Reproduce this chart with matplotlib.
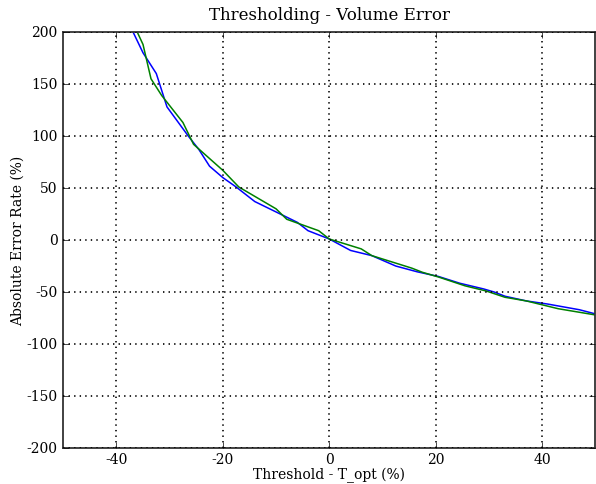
import matplotlib
matplotlib.use('Agg')
import matplotlib.pyplot as plt
import numpy as np

plt.style.use('classic')
plt.rcParams['font.family'] = 'serif'
plt.rcParams['axes.unicode_minus'] = False
plt.rcParams['xtick.labelsize'] = 10
plt.rcParams['ytick.labelsize'] = 10
plt.rcParams['xtick.major.pad'] = 3

# threshold offset (%) and error rate (%) for the two curves
blue_x = [-38, -35, -32.5, -30.5, -26.5, -24.5, -22.5, -20, -17.5, -14, -10, -6, -4, 0,
          4, 8, 12.5, 16.5, 20.5, 24.5, 29, 31, 33, 37, 41, 47, 50]
blue_y = [212, 180, 160, 128, 100, 87, 71, 60, 51, 37, 27, 17, 9, 1,
          -10, -15, -25, -30.5, -35, -41.5, -47, -50, -54, -58.5, -61.5, -67, -71]

green_x = [-37, -35, -33.5, -31.5, -27.5, -25.5, -20, -17, -10, -8, -2, 0,
           6, 8, 13, 15.5, 17.5, 20.5, 25.5, 29.5, 33, 37, 43, 50]
green_y = [210, 188, 155, 139, 113, 92, 67, 51, 30, 20, 9, 1,
           -8.5, -15, -23, -27, -31, -35.5, -44, -49, -55, -58.5, -66, -72]

fig = plt.figure(figsize=(5.96, 4.85), dpi=100, facecolor='white')
ax = fig.add_axes([0.106, 0.074, 0.893, 0.858])

ax.plot(blue_x, blue_y, 'b-', linewidth=1.1)
ax.plot(green_x, green_y, 'g-', linewidth=1.1)

ax.set_xlim(-50, 50)
ax.set_ylim(-200, 200)
ax.set_xticks([-40, -20, 0, 20, 40])
ax.set_yticks(np.arange(-200, 201, 50))
ax.grid(True, color='black', linestyle=':', linewidth=1.2)
for s in ax.spines.values():
    s.set_linewidth(1.3)
    s.set_color('#333333')

ax.set_title('Thresholding - Volume Error', fontsize=12, pad=9)
ax.set_xlabel('Threshold - T_opt (%)', fontsize=10, labelpad=0)
ax.set_ylabel('Absolute Error Rate (%)', fontsize=10, labelpad=1)

fig.savefig('out.png', dpi=100, facecolor='white')
